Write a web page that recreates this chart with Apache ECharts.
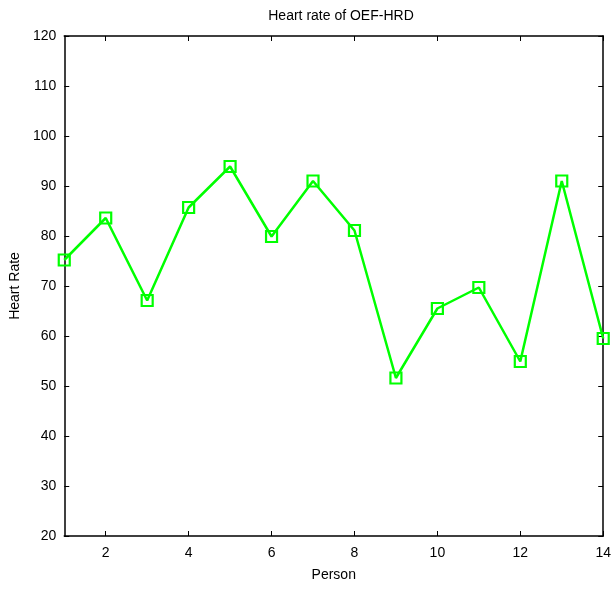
<!DOCTYPE html>
<html>
<head>
<meta charset="utf-8">
<script src="https://cdn.jsdelivr.net/npm/echarts@6/dist/echarts.min.js"></script>
<style>
  html, body { margin: 0; padding: 0; background: #fff; }
  #chart { width: 614px; height: 589px; }
</style>
</head>
<body>
<div id="chart"></div>
<script>
// person index and measured heart rate
var persons = [1, 2, 3, 4, 5, 6, 7, 8, 9, 10, 11, 12, 13, 14];
var heartRate = [75.2, 83.6, 67.1, 85.7, 93.9, 79.9, 91.0, 81.1, 51.6, 65.5, 69.7, 54.9, 91.0, 59.5];
var xTicks = [2, 4, 6, 8, 10, 12, 14];

var font = 'Liberation Sans, Arial, sans-serif';
var myChart = echarts.init(document.getElementById('chart'));

var points = persons.map(function (p, i) { return [p, heartRate[i]]; });

var option = {
  animation: false,
  title: {
    text: 'Heart rate of OEF-HRD',
    left: 336, top: 4, textAlign: 'center',
    textStyle: { fontFamily: font, fontSize: 14, fontWeight: 'normal', color: '#000' }
  },
  grid: { left: 63, right: 5, top: 36, bottom: 53 },
  xAxis: [{
    type: 'value', min: 1, max: 14,
    name: 'Person', nameLocation: 'middle', nameGap: 32,
    nameTextStyle: { fontFamily: font, fontSize: 14, color: '#000' },
    axisLine: { lineStyle: { color: '#000', width: 1.5 } },
    axisTick: { inside: true, length: 5, customValues: xTicks, lineStyle: { color: '#000' } },
    axisLabel: { customValues: xTicks, fontFamily: font, fontSize: 14, color: '#000', margin: 10 },
    splitLine: { show: false }
  }, {
    type: 'value', min: 1, max: 14, position: 'top',
    axisLine: { lineStyle: { color: '#000', width: 1.5 } },
    axisTick: { inside: true, length: 5, customValues: xTicks, lineStyle: { color: '#000' } },
    axisLabel: { show: false },
    splitLine: { show: false }
  }],
  yAxis: [{
    type: 'value', min: 20, max: 120, interval: 10,
    name: 'Heart Rate', nameLocation: 'middle', nameGap: 42,
    nameTextStyle: { fontFamily: font, fontSize: 14, color: '#000' },
    axisLine: { show: true, lineStyle: { color: '#000', width: 1.5 } },
    axisTick: { show: true, inside: true, length: 5, lineStyle: { color: '#000' } },
    axisLabel: { fontFamily: font, fontSize: 14, color: '#000', margin: 8 },
    splitLine: { show: false }
  }, {
    type: 'value', min: 20, max: 120, interval: 10, position: 'right',
    axisLine: { show: true, lineStyle: { color: '#000', width: 1.5 } },
    axisTick: { show: true, inside: true, length: 5, lineStyle: { color: '#000' } },
    axisLabel: { show: false },
    splitLine: { show: false }
  }],
  series: [{
    type: 'line',
    data: points,
    symbol: 'rect',
    symbolSize: 11,
    lineStyle: { color: '#00ff00', width: 2.5 },
    itemStyle: { color: 'none', borderColor: '#00ff00', borderWidth: 2.2 }
  }]
};

myChart.setOption(option);
</script>
</body>
</html>
